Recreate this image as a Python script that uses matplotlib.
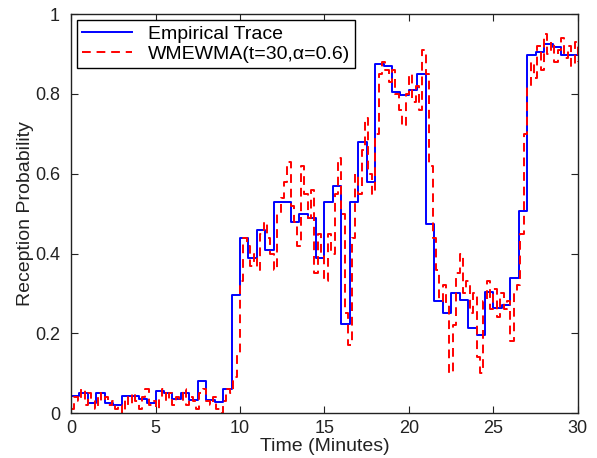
import numpy as np
import matplotlib
matplotlib.use('Agg')
import matplotlib.pyplot as plt

plt.rcParams['font.family'] = ['Liberation Sans', 'DejaVu Sans']

# Empirical trace: step values every 0.5 minute
emp_t = [0.0, 0.5, 1.0, 1.5, 2.0, 2.5, 3.0, 3.5, 4.0, 4.5,
         5.0, 5.5, 6.0, 6.5, 7.0, 7.5, 8.0, 8.5, 9.0, 9.5,
         10.0, 10.5, 11.0, 11.5, 12.0, 12.5, 13.0, 13.5, 14.0, 14.5,
         15.0, 15.5, 16.0, 16.5, 17.0, 17.5, 18.0, 18.5, 19.0, 19.5,
         20.0, 20.5, 21.0, 21.5, 22.0, 22.5, 23.0, 23.5, 24.0, 24.5,
         25.0, 25.5, 26.0, 26.5, 27.0, 27.5, 28.0, 28.5, 29.0, 29.5, 30.0]
emp_v = [0.043, 0.05, 0.026, 0.05, 0.026, 0.02, 0.043, 0.043, 0.035, 0.025,
         0.056, 0.05, 0.035, 0.05, 0.033, 0.08, 0.033, 0.028, 0.06, 0.296,
         0.44, 0.39, 0.46, 0.41, 0.53, 0.53, 0.48, 0.50, 0.49, 0.39,
         0.53, 0.57, 0.223, 0.53, 0.68, 0.58, 0.875, 0.87, 0.805, 0.797,
         0.81, 0.85, 0.474, 0.28, 0.25, 0.30, 0.283, 0.213, 0.195, 0.304,
         0.263, 0.27, 0.338, 0.506, 0.897, 0.904, 0.926, 0.918, 0.897, 0.897, 0.897]

# WMEWMA estimate, read every 0.2 minute
est_t = [round(0.2 * i, 1) for i in range(151)]
est_v = [0.01, 0.04, 0.03, 0.06, 0.02, 0.05, 0.03, 0.01, 0.05, 0.03,
         0.04, 0.02, 0.03, 0.01, 0.02, 0.00, 0.04, 0.02, 0.05, 0.03,
         0.01, 0.04, 0.06, 0.02, 0.03, 0.01, 0.04, 0.06, 0.03, 0.05,
         0.02, 0.04, 0.03, 0.06, 0.02, 0.04, 0.03, 0.01, 0.05, 0.06,
         0.03, 0.02, 0.04, 0.01, 0.00, 0.03, 0.06, 0.05, 0.09, 0.15,
         0.33, 0.44, 0.42, 0.37, 0.40, 0.36, 0.45, 0.48, 0.44, 0.40,
         0.36, 0.50, 0.54, 0.58, 0.63, 0.52, 0.48, 0.42, 0.62, 0.55,
         0.49, 0.56, 0.35, 0.45, 0.40, 0.33, 0.45, 0.40, 0.55, 0.64,
         0.50, 0.25, 0.17, 0.44, 0.60, 0.55, 0.66, 0.74, 0.60, 0.55,
         0.70, 0.85, 0.88, 0.86, 0.83, 0.86, 0.80, 0.76, 0.72, 0.80,
         0.85, 0.78, 0.82, 0.76, 0.91, 0.85, 0.62, 0.44, 0.36, 0.28,
         0.32, 0.27, 0.10, 0.22, 0.35, 0.40, 0.30, 0.33, 0.25, 0.30,
         0.14, 0.10, 0.28, 0.33, 0.26, 0.31, 0.24, 0.30, 0.26, 0.28,
         0.18, 0.30, 0.32, 0.45, 0.70, 0.82, 0.88, 0.84, 0.92, 0.86,
         0.95, 0.90, 0.93, 0.88, 0.91, 0.94, 0.89, 0.92, 0.87, 0.93,
         0.88]

fig = plt.figure(figsize=(5.97, 4.58), dpi=100)
ax = fig.add_axes([0.119, 0.098, 0.849, 0.871])

ax.plot(emp_t, emp_v, color='#0000ff', lw=1.4, drawstyle='steps-post', label='Empirical Trace')
ax.plot(est_t, est_v, color='#ff0000', lw=1.4, ls=(0, (4.5, 3)), drawstyle='steps-post',
        label='WMEWMA(t=30,α=0.6)')

ax.set_xlim(0, 30)
ax.set_ylim(0, 1)
ax.set_xticks([0, 5, 10, 15, 20, 25, 30])
ax.set_yticks([0, 0.2, 0.4, 0.6, 0.8, 1])
ax.set_yticklabels(['0', '0.2', '0.4', '0.6', '0.8', '1'])
ax.tick_params(direction='in', top=True, right=True, length=5, labelsize=13, colors='#222222')
ax.tick_params(axis='x', pad=5)
ax.tick_params(axis='y', pad=8)
ax.set_xlabel('Time (Minutes)', fontsize=14, labelpad=1, color='#222222')
ax.set_ylabel('Reception Probability', fontsize=14, labelpad=0.5, color='#222222')
for s in ax.spines.values():
    s.set_linewidth(1.0)
    s.set_color('#222222')

leg = ax.legend(loc='upper left', fontsize=14, fancybox=False, framealpha=1,
                edgecolor='black', borderaxespad=0.3, handlelength=2.6, labelspacing=0.15,
                borderpad=0.25, handletextpad=0.8)
leg.get_frame().set_linewidth(1.0)

plt.savefig('out.png', dpi=100)
